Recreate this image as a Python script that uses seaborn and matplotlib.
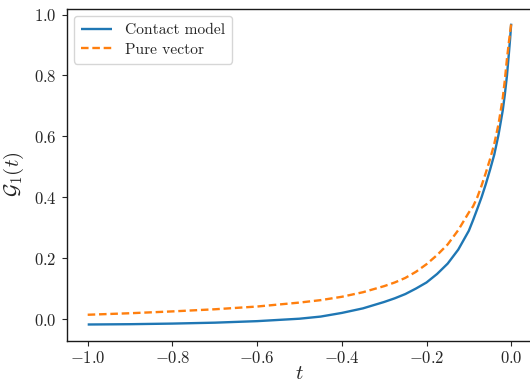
import matplotlib
matplotlib.use("Agg")
import matplotlib.pyplot as plt
import seaborn as sns
import pandas as pd

t_values = [-1.0, -0.9, -0.8, -0.7, -0.6, -0.5, -0.45, -0.4, -0.35, -0.3, -0.275,
            -0.25, -0.225, -0.2, -0.175, -0.15, -0.125, -0.1, -0.09, -0.08, -0.07,
            -0.06, -0.05, -0.04, -0.03, -0.02, -0.015, -0.01, -0.005, -0.0025, 0.0]
contact_model = [-0.018, -0.017, -0.015, -0.012, -0.007, 0.001, 0.008, 0.020, 0.035,
                 0.056, 0.068, 0.082, 0.100, 0.120, 0.148, 0.182, 0.228, 0.290, 0.325,
                 0.362, 0.400, 0.443, 0.490, 0.540, 0.605, 0.685, 0.738, 0.800, 0.880,
                 0.922, 0.970]
pure_vector = [0.014, 0.019, 0.025, 0.032, 0.041, 0.054, 0.062, 0.073, 0.088, 0.108,
               0.120, 0.135, 0.155, 0.180, 0.210, 0.245, 0.292, 0.350, 0.370, 0.400,
               0.438, 0.480, 0.525, 0.575, 0.640, 0.725, 0.785, 0.855, 0.915, 0.943,
               0.970]
series_names = ["Contact model", "Pure vector"]

sns.set_style("ticks")
plt.rcParams.update({
    "font.family": "serif",
    "font.serif": ["cmr10", "DejaVu Serif"],
    "mathtext.fontset": "cm",
    "axes.formatter.use_mathtext": True,
    "axes.unicode_minus": True,
    "xtick.direction": "out",
    "ytick.direction": "out",
})

df = pd.DataFrame({
    "t": t_values * 2,
    "G": contact_model + pure_vector,
    "series": [series_names[0]] * len(t_values) + [series_names[1]] * len(t_values),
})

fig = plt.figure(figsize=(5.30, 3.82), dpi=100)
ax = fig.add_axes([0.1255, 0.1086, 0.879, 0.869])

sns.lineplot(data=df, x="t", y="G", hue="series", style="series",
             palette=["#1f77b4", "#ff7f0e"], dashes=[(1, 0), (3.2, 1.6)],
             linewidth=1.7, ax=ax)

ax.set_xlim(-1.05, 0.05)
ax.set_ylim(-0.0706, 1.0196)
ax.set_xticks([-1.0, -0.8, -0.6, -0.4, -0.2, 0.0])
ax.set_yticks([0.0, 0.2, 0.4, 0.6, 0.8, 1.0])
ax.tick_params(labelsize=12, length=3.5, width=0.8, colors="0.15")
for s in ax.spines.values():
    s.set_linewidth(1.0)
    s.set_color("0.1")

ax.set_xlabel("$t$", fontsize=15, labelpad=-1)
ax.set_ylabel(r"$\mathcal{G}_1(t)$", fontsize=15, labelpad=6)

leg = ax.legend(loc="upper left", fontsize=11.2, frameon=True, handlelength=2.0,
                borderpad=0.45, labelspacing=0.35, borderaxespad=0.5)
leg.set_title(None)

fig.savefig("out.png", dpi=100)
